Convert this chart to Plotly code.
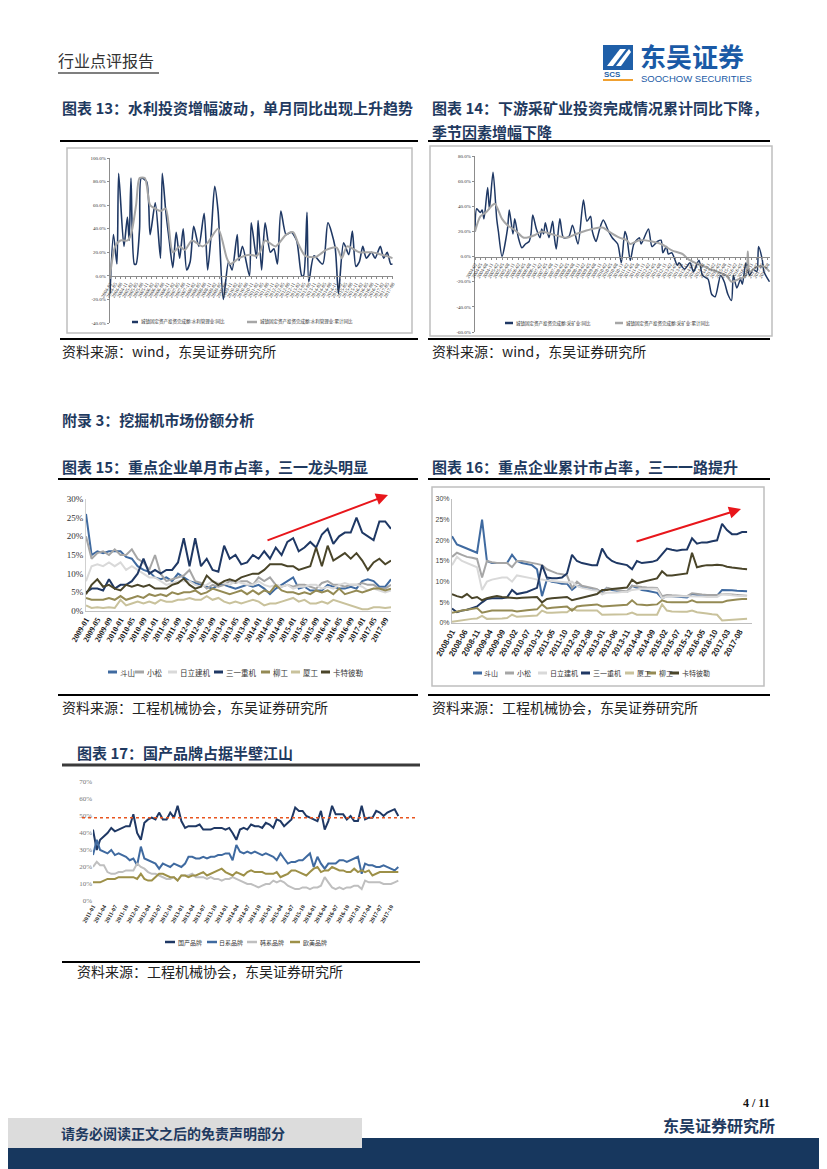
import plotly.graph_objects as go
import pandas as pd

W, H = 827, 1169
OFF = 8  # page body margin: figure origin sits 8px in from the page corner
def px(v): return (v - OFF) / W
def py(v): return 1 - (v - OFF) / H

CJK = "Noto Sans CJK SC"
SERIF = "Liberation Serif"
SANS = "Liberation Sans"
TITLE_C = "#1f3a60"

# ---------------- Chart 13 data (水利管理业) ----------------
c13_month_dates = ["2004-02","2004-04","2004-06","2004-07","2004-10","2004-12",
    "2005-01","2005-02","2005-04","2005-05","2005-07","2005-08","2005-11",
    "2006-01","2006-04","2006-07","2006-08","2006-10","2006-12",
    "2007-02","2007-04","2007-06","2007-08","2007-10","2007-12",
    "2008-02","2008-05","2008-08","2008-10","2008-12",
    "2009-02","2009-04","2009-07","2009-10","2009-12",
    "2010-03","2010-04","2010-06","2010-10","2010-11",
    "2011-02","2011-03","2011-05","2011-07","2011-10","2011-12",
    "2012-02","2012-04","2012-07","2012-10",
    "2013-01","2013-04","2013-05","2013-07","2013-08","2013-11",
    "2014-04","2014-07","2014-11",
    "2015-01","2015-04","2015-07","2015-09","2015-11",
    "2016-01","2016-03","2016-05","2016-08","2016-10",
    "2017-01","2017-03","2017-05","2017-07","2017-08"]
c13_month_vals = [-15,35,10,87,25,50,
    30,83,10,10,40,83,80,
    35,62,15,87,55,30,
    7,37,15,40,5,12,
    42,25,53,5,35,
    76,55,-20,12,5,
    35,13,25,0,45,
    15,47,5,45,20,23,
    10,55,35,37,
    30,0,0,54,-5,17,
    10,45,25,
    -15,28,18,38,8,
    12,25,15,20,15,
    25,15,20,10,10]
c13_cum_dates = ["2004-02","2004-05","2004-08","2004-12","2005-02","2005-05","2005-07","2005-10",
    "2006-01","2006-04","2006-07","2006-10","2007-02","2007-06","2007-09","2008-01","2008-07","2008-10",
    "2009-04","2009-09","2009-11","2010-04","2010-10","2011-02","2011-04","2011-07","2012-01","2012-07",
    "2012-11","2013-02","2013-06","2013-12","2014-06","2014-12","2015-03","2015-06","2016-01","2016-08",
    "2017-04","2017-08"]
c13_cum_vals = [0,25,30,30,35,60,83,83,60,57,55,57,20,25,22,30,25,28,40,15,10,15,18,17,20,30,
    25,35,37,27,17,16,22,24,15,25,20,20,17,15]
c13_yticks = [-40,-20,0,20,40,60,80,100]
c13_names = ["城镇固定资产投资完成额:水利管理业:同比", "城镇固定资产投资完成额:水利管理业:累计同比"]

# ---------------- Chart 14 data (采矿业) ----------------
c14_month_dates = ["2004-02","2004-03","2004-05","2004-06","2004-07","2004-09","2004-10","2004-12",
    "2005-02","2005-03","2005-05","2005-08","2005-09","2005-11","2005-12",
    "2006-02","2006-04","2006-06","2006-08","2006-09","2006-10","2006-12",
    "2007-02","2007-03","2007-04","2007-05","2007-07","2007-09","2007-10","2007-11",
    "2008-01","2008-03","2008-06","2008-08","2008-11",
    "2009-02","2009-04","2009-06","2009-07","2009-09","2009-11",
    "2010-01","2010-04","2010-06","2010-09","2010-11",
    "2011-01","2011-02","2011-04","2011-06","2011-09","2011-10",
    "2012-02","2012-04","2012-07","2012-09","2012-10","2012-12",
    "2013-01","2013-03","2013-06","2013-07","2013-10",
    "2014-01","2014-03","2014-06","2014-08","2014-11",
    "2015-01","2015-03","2015-06","2015-08","2015-10","2015-12",
    "2016-01","2016-03","2016-05","2016-06","2016-08","2016-10","2016-12",
    "2017-02","2017-03","2017-05","2017-06","2017-09"]
c14_month_vals = [20,38,35,37,30,55,38,67,
    30,20,0,22,37,18,30,
    15,7,10,12,18,33,22,
    15,22,18,27,15,28,15,6,
    30,15,16,25,10,
    45,28,32,20,12,22,
    29,20,15,10,-5,
    20,16,-3,10,15,10,
    22,8,12,13,3,8,
    2,3,-7,-5,-10,
    -5,-12,-3,-15,-18,
    -30,-32,-15,-20,-30,-35,
    -15,-25,-18,-22,-5,-15,-10,
    -12,8,-2,-12,-20]
c14_cum_dates = ["2004-02","2004-05","2004-08","2004-11","2005-01","2005-05","2005-08","2006-01",
    "2006-05","2006-11","2007-03","2007-08","2008-05","2008-10","2009-02","2009-07","2010-01",
    "2010-04","2010-10","2011-02","2011-04","2011-09","2012-04","2012-09","2013-03","2013-09",
    "2013-12","2014-04","2014-09","2014-12","2015-04","2015-09","2015-12","2016-04","2016-08",
    "2016-09","2016-10","2017-02","2017-06","2017-09"]
c14_cum_vals = [20,32,35,40,42,30,25,20,15,17,20,18,15,18,20,22,23,20,15,13,10,13,12,10,5,2,
    -2,-5,-8,-10,-12,-15,-20,-18,-15,4,-12,-8,-8,-12]
c14_yticks = [-60,-40,-20,0,20,40,60,80]
c14_names = ["城镇固定资产投资完成额:采矿业:同比", "城镇固定资产投资完成额:采矿业:累计同比"]

# ---------------- Chart 15 data (单月市占率, every 2 months from 2009-01) ----------------
c15_dates = pd.date_range("2009-01-01", periods=54, freq="2MS")
c15_doosan = [26,15,16,15.5,16,16, 16,14.5,14,12,11,10.5, 9,8.5,9,8,10,9, 8,7.5,7,6.5,6,7,
    7,6.5,6,6.5,7,6.5, 7,6,4.5,6,7,8, 9,6,6.5,5.5,5.5,5.5, 7,6.5,6,6,6.5,6, 8,8.5,8,6.5,6.5,8.5]
c15_komatsu = [20,14,15.5,16,15,16.5, 15,15,16.5,14,13,11, 15,10,8,8.5,9,9.5, 11,8,7.5,6,7,6.5,
    7,8,7.5,8,8,7, 9,8,9,7,6.5,7, 6.5,7,7,6.5,6,7.5, 8,7,7,6.5,7,7, 7.5,7,7,6,6,7]
c15_hitachi = [8,12,12.5,12,13,12, 13,11,12,11,10,9, 9,8,7,7.5,8,8, 8,7,6.5,7,8,7.5,
    7.5,7,8,7.5,7,7, 8,7,6.5,7,6.5,7, 6,6.5,6.5,7,7,6, 6.5,6,7,7.5,7,7, 6.5,5.5,6,5.5,5,5.5]
c15_sany = [5,6,6,5.5,8.5,6, 7,7,8,10,14,10, 11,10,11,11,13,19.5, 12,19.5,12,14,11,10.5,
    17.5,14,15,12.5,13,15, 14,16,14,17,15,18.5, 19.5,16,17,18.5,17,20.5, 22,18,20,21,21,25,
    21,20,19,24,24,22]
c15_liugong = [3.5,3,3,3,3.5,3, 4,3,3.5,4,3.5,4.5, 4,4.5,4,5,4.5,5, 5,5.5,4.5,5,6,5.5,
    5,4.5,5,5.5,4.5,5.5, 4.5,5.5,5,7,5.5,5, 5,4.5,5,4.5,5.5,5, 5.5,4.5,6,4.5,5,5.5, 5,5.5,6,6,5.5,6]
c15_xiagong = [1.5,0.8,1,0.8,1,0.8, 3,1.5,2,2.5,2,2.5, 2,3,2.5,2.5,3,3, 3.5,3,3,4,3,3.5,
    2.5,2,2.5,2,2.5,3, 2.5,1.5,2,2,2.5,3, 3.5,2.5,3,2,2,2.5, 2,3,2.5,2,1.5,1, 0.5,0.5,1,1,0.8,1]
c15_cat = [4.5,7,8.5,6.5,7,6, 5.5,7,6.5,7,6.5,7, 6,6,6,7,7.5,8.7, 7,6,6.5,9.5,8,7,
    8,8.5,8,9,9.5,10, 10,11,12.5,12.5,12.5,12, 12,11,11.5,12,17,12, 17.5,13.5,14.5,15.5,14,15.5,
    13.5,11,13,14,12.5,13.5]

# ---------------- Chart 16 data (累计市占率, every 2 months from 2008-01) ----------------
c16_dates = pd.date_range("2008-01-01", periods=60, freq="2MS")
c16_doosan = [21,19,18.5,18,17.5,17, 25,15,14.5,14.5,14.5,14.5, 16.5,15,14.5,14.2,14,13,
    6.5,10.5,10,9.8,9.5,9.5, 8,9,8.7,8.5,8.2,8, 7.5,8.5,8,7.8,7.5,7.5, 9,8.5,8,7.8,7.5,7.3,
    6,6.5,6.5,6.4,6.3,6.2, 7,6.8,6.8,6.7,6.6,6.6, 8,8,7.9,7.8,7.7,7.7]
c16_komatsu = [16,17,16.5,16,15.8,15.5, 11,15,14.7,14.5,14.5,14.5, 13.5,15,15,14.8,14.5,14.3,
    14,13,12.5,12,11.8,11.5, 8.5,10,9,8.8,8.5,8.2, 7,8.5,8.2,8,7.8,7.6, 9,8.8,8.7,8.6,8.6,8.5,
    6.5,6.8,6.7,6.6,6.5,6.5, 7.2,7,6.9,6.8,6.8,6.8, 7,7,6.9,6.8,6.7,6.6]
c16_hitachi = [14,16,15,14.5,14,13.5, 8,10,10.5,10.8,11,11, 10,11.5,11.3,11,10.8,10.5,
    10.5,10.3,10.2,10,10,9.8, 10,9,8.5,8.2,8,7.8, 7,7.3,7.3,7.4,7.5,7.5, 8,8.2,8.3,8.3,8.3,8.3,
    6,6.4,6.4,6.5,6.5,6.5, 6.5,6.4,6.4,6.3,6.3,6.3, 7,6.8,6.7,6.6,6.5,6.5]
c16_sany = [3.5,2.6,3,3.2,3.6,4, 5,5.8,6,6,6,6.2, 8,7,7.2,7.5,8,8.5, 14,11,10.8,10.8,11,12,
    16.5,15,14.5,14.2,14,14, 18,16,15,14.5,14.3,14, 13,15,14.5,14.7,14.8,15.2,
    16.5,18,17.7,17.5,17.7,17.8, 20.5,19.2,19.5,19.5,19.8,20, 24,22.5,21.5,21.5,22,22]
c16_xiagong = [0.3,0.5,0.7,0.8,1,1.1, 1.7,1,1,1.1,1.1,1.2, 2,1.5,1.6,1.7,1.8,1.8, 3,2.5,2.5,2.6,2.6,2.6,
    3.5,3,3,3,3,3, 2,2,2,2,2.1,2.1, 2.5,2,2,2,2,2, 4.5,3,2.8,2.7,2.7,2.7, 3,2.6,2.5,2.3,2.1,2,
    0.6,0.7,0.8,0.8,0.9,1]
c16_liugong = [2.5,2.8,3,3.2,3.4,3.6, 2.5,2.8,3,3,3,3.1, 3,2.8,3,3.1,3.2,3.3, 4.5,3.5,3.7,3.8,3.9,4,
    3,4,4.2,4.3,4.4,4.5, 4,4.1,4.2,4.3,4.4,4.4, 5.5,4.5,4.4,4.3,4.4,4.5, 5.5,5.1,5,5,5,5,
    5.5,5,5,5,5,5, 5,5.4,5.6,5.7,5.8,5.8]
c16_cat = [7,6.5,6.2,7,6,6.3, 5.5,6,6.3,6.5,6.3,6.2, 6,6,6.1,6.2,6.2,6.3, 5,5.8,6,6.1,6.2,6.3,
    5.5,5.8,6.2,6.5,6.8,7, 8,8,8.2,8.3,8.4,8.6, 10.5,9.6,9.9,10.2,10.5,10.8,
    12.5,11.5,11.5,11.7,11.8,12, 17,13.5,13.8,14,14,14.1, 14,13.6,13.4,13.2,13.1,13]

# ---------------- Chart 17 data (品牌份额, monthly from 2011-01) ----------------
c17_dates = pd.date_range("2011-01-01", periods=84, freq="MS")
c17_domestic = [42,30,36,38,40,43,41,42,43,44,44,51, 40,36,46,48,49,48,52,48,48,52,49,56,
    47,43,44,44,44,45,42,42,42,43,43,43, 42,43,40,36,42,43,42,45,44,44,43,46,
    45,43,48,47,44,46,48,55,53,53,50,49, 48,47,53,42,47,56,51,51,51,48,50,47,
    47,56,48,49,49,53,52,50,52,53,54,50]
c17_japan = [27,36,30,29,28,30,27,28,27,26,24,25, 21,32,25,24,23,22,19,22,21,20,22,21,
    20,22,26,26,25,25,26,25,26,26,27,27, 28,28,24,33,29,28,29,28,29,28,27,28,
    27,26,24,28,25,22,23,23,24,24,26,28, 20,26,22,19,22,22,22,24,24,23,24,25,
    26,16,22,21,21,20,20,21,20,19,18,20]
c17_korea = [20,23,21,21,17,16,16,17,17,18,18,18, 22,20,19,17,16,16,15,14,13,13,14,12,
    15,15,15,16,14,14,14,13,14,13,13,12, 13,13,14,13,12,11,10,10,9,8,9,10,
    10,12,11,12,11,9,8,7,7,8,8,7, 8,8,9,14,11,8,7,8,7,8,8,9,
    9,7,12,11,11,11,11,10,10,10,11,12]
c17_euro = [11,11,11,12,13,13,13,14,14,14,14,14, 13,16,13,12,12,14,16,16,15,14,14,12,
    15,15,14,15,15,16,17,15,16,17,18,19, 17,16,15,17,16,15,17,18,17,17,17,16,
    16,16,17,14,15,16,18,18,17,16,15,17, 19,20,17,18,18,20,19,18,18,17,17,19,
    17,18,17,18,15,16,17,17,17,17,17,17]
c17_half_line = 49

pct_ticks_30 = [0,5,10,15,20,25,30]
pct_ticks_70 = [0,10,20,30,40,50,60,70]

C_NAVY = "#1f3864"
C_DOOSAN = "#3f6aa0"
C_KOMATSU = "#a6a6a6"
C_HITACHI = "#d9d9d9"
C_LIUGONG = "#948a54"
C_XIAGONG = "#c9c29c"
C_CAT = "#4a4529"

fig = go.Figure()

def line(x, y, xa, ya, color, width, shape="linear"):
    ln = dict(color=color, width=width, shape=shape)
    if shape == "spline":
        ln["smoothing"] = 0.7
    fig.add_trace(go.Scatter(x=x, y=y, mode="lines", line=ln, xaxis=xa, yaxis=ya,
                             hoverinfo="skip", showlegend=False, cliponaxis=True))

# chart 13
line(c13_month_dates, c13_month_vals, "x", "y", "#1f3864", 1.6, "spline")
line(c13_cum_dates, c13_cum_vals, "x", "y", "#a6a6a6", 2.0, "spline")
# chart 14
line(c14_month_dates, c14_month_vals, "x2", "y2", "#1f3864", 1.5, "spline")
line(c14_cum_dates, c14_cum_vals, "x2", "y2", "#a6a6a6", 2.0, "spline")
# chart 15
for vals, col in [(c15_doosan, C_DOOSAN), (c15_komatsu, C_KOMATSU), (c15_hitachi, C_HITACHI),
                  (c15_sany, C_NAVY), (c15_liugong, C_LIUGONG), (c15_xiagong, C_XIAGONG), (c15_cat, C_CAT)]:
    line(c15_dates, vals, "x3", "y3", col, 2.0)
# chart 16
for vals, col in [(c16_doosan, C_DOOSAN), (c16_komatsu, C_KOMATSU), (c16_hitachi, C_HITACHI),
                  (c16_sany, C_NAVY), (c16_xiagong, C_XIAGONG), (c16_liugong, C_LIUGONG), (c16_cat, C_CAT)]:
    line(c16_dates, vals, "x4", "y4", col, 2.0)
# chart 17
for vals, col in [(c17_domestic, C_NAVY), (c17_japan, C_DOOSAN), (c17_korea, "#bfbfbf"), (c17_euro, "#9d9048")]:
    line(c17_dates, vals, "x5", "y5", col, 2.0)

axis_common = dict(showgrid=False, zeroline=False, automargin=False)
small_tf = dict(size=5, family=SERIF, color="#333")

fig.update_layout(
    width=W, height=H, margin=dict(l=0, r=0, t=0, b=0, pad=0, autoexpand=False),
    paper_bgcolor="white", plot_bgcolor="rgba(0,0,0,0)", showlegend=False,
    font=dict(family=CJK),
    xaxis=dict(domain=[px(110), px(393)], anchor="free", position=py(276), type="date",
               range=["2004-02-01", "2017-08-10"], tickmode="linear", tick0="2004-02-01", dtick="M3",
               tickformat="%Y-%m", tickangle=-60, tickfont=small_tf, showline=True, linecolor="#8c8c8c",
               linewidth=1, ticks="outside", ticklen=2, tickcolor="#8c8c8c", **axis_common),
    yaxis=dict(domain=[py(323), py(158)], range=[-40, 100], anchor="x", tickmode="array",
               tickvals=c13_yticks, ticktext=[f"{v:.1f}%" for v in c13_yticks], tickfont=small_tf,
               showline=True, linecolor="#8c8c8c", ticks="outside", ticklen=2, tickcolor="#8c8c8c",
               **axis_common),
    xaxis2=dict(domain=[px(475), px(770)], anchor="free", position=py(256.6), type="date",
                range=["2004-02-01", "2017-09-10"], tickmode="linear", tick0="2004-02-01", dtick="M3",
                tickformat="%Y-%m", tickangle=-60, tickfont=small_tf, showline=True, linecolor="#8c8c8c",
                linewidth=1, ticks="outside", ticklen=2, tickcolor="#8c8c8c", **axis_common),
    yaxis2=dict(domain=[py(332), py(156)], range=[-60, 80], anchor="x2", tickmode="array",
                tickvals=c14_yticks, ticktext=[f"{v:.1f}%" for v in c14_yticks], tickfont=small_tf,
                showline=True, linecolor="#8c8c8c", ticks="outside", ticklen=2, tickcolor="#8c8c8c",
                **axis_common),
    xaxis3=dict(domain=[px(86), px(391)], anchor="y3", type="date",
                range=["2009-01-01", "2017-11-01"], tickmode="linear", tick0="2009-01-01", dtick="M4",
                tickformat="%Y-%m", tickangle=-60,
                tickfont=dict(size=8, family=SERIF, color="#111", weight="bold"),
                showline=True, linecolor="#bfbfbf", ticks="", **axis_common),
    yaxis3=dict(domain=[py(611), py(499)], range=[0, 30], anchor="x3", tickmode="array",
                tickvals=pct_ticks_30, ticktext=[f"{v}%" for v in pct_ticks_30],
                tickfont=dict(size=9, family=SERIF, color="#333"),
                showline=True, linecolor="#d0d0d0", ticks="", **axis_common),
    xaxis4=dict(domain=[px(452), px(752)], anchor="y4", type="date",
                range=["2008-01-01", "2017-12-31"], tickmode="linear", tick0="2008-01-01", dtick="M5",
                tickformat="%Y-%m", tickangle=-60,
                tickfont=dict(size=8, family=SANS, color="#222", weight="bold"),
                showline=True, linecolor="#bfbfbf", ticks="", **axis_common),
    yaxis4=dict(domain=[py(623), py(499)], range=[0, 30], anchor="x4", tickmode="array",
                tickvals=pct_ticks_30, ticktext=[f"{v}%" for v in pct_ticks_30],
                tickfont=dict(size=7, family=SANS, color="#444"),
                showline=True, linecolor="#bfbfbf", ticks="", **axis_common),
    xaxis5=dict(domain=[px(93), px(400)], anchor="y5", type="date",
                range=["2011-01-01", "2017-12-15"], tickmode="linear", tick0="2011-01-01", dtick="M3",
                tickformat="%Y-%m", tickangle=-60,
                tickfont=dict(size=6, family=SERIF, color="#222", weight="bold"),
                showline=False, ticks="", **axis_common),
    yaxis5=dict(domain=[py(901), py(782)], range=[0, 70], anchor="x5", tickmode="array",
                tickvals=pct_ticks_70, ticktext=[f"{v}%" for v in pct_ticks_70],
                tickfont=dict(size=7, family=SERIF, color="#777"),
                showline=False, ticks="", **axis_common),
)

def rect(x0, y0, x1, y1, fill=None, lc=None, lw=0):
    fig.add_shape(type="rect", xref="paper", yref="paper", x0=px(x0), x1=px(x1), y0=py(y0), y1=py(y1),
                  fillcolor=fill if fill else "rgba(0,0,0,0)",
                  line=dict(color=lc if lc else "rgba(0,0,0,0)", width=lw), layer="below")

def hline(x0, x1, y, color="#000", width=2, dash="solid"):
    fig.add_shape(type="line", xref="paper", yref="paper", x0=px(x0), x1=px(x1), y0=py(y), y1=py(y),
                  line=dict(color=color, width=width, dash=dash))

def txt(x, y, s, size, color="#000", bold=False, anchor="left", family=CJK):
    fig.add_annotation(x=px(x), y=py(y), xref="paper", yref="paper", text=s, showarrow=False,
                       xanchor=anchor, yanchor="middle", borderpad=0,
                       font=dict(size=size, color=color, family=family, weight="bold" if bold else "normal"))

def legend_item(x0, x1, y, color, s, size, lw=2.5, family=CJK):
    hline(x0, x1, y, color, lw)
    txt(x1 + 1.5, y, s, size, "#333", family=family)

# ---- header
txt(57, 60, "行业点评报告", 16, "#333")
hline(58, 159, 73, "#555", 1.5)
rect(603, 45, 633, 70, fill="#1f5fa8")
fig.add_shape(type="path", xref="paper", yref="paper",
              path=f"M {px(607)} {py(66)} L {px(620)} {py(49)} L {px(626)} {py(49)} L {px(613)} {py(66)} Z",
              fillcolor="white", line=dict(width=0))
fig.add_shape(type="path", xref="paper", yref="paper",
              path=f"M {px(616)} {py(66)} L {px(629)} {py(49)} L {px(631)} {py(52)} L {px(621)} {py(66)} Z",
              fillcolor="white", line=dict(width=0))
txt(603, 75, "SCS", 8, "#1f5fa8", True, family=SANS)
hline(603, 633, 80, "#f0a030", 2)
txt(639, 55, "东吴证券", 26, "#1a5aa6", True)
txt(640, 78, "SOOCHOW SECURITIES", 9.5, "#1a5aa6", family=SANS)

# ---- chart 13 / 14 frames and titles
txt(61, 108, "图表 13：水利投资增幅波动，单月同比出现上升趋势", 15, TITLE_C, True)
txt(431, 108, "图表 14：下游采矿业投资完成情况累计同比下降，", 15, TITLE_C, True)
txt(431, 131, "季节因素增幅下降", 15, TITLE_C, True)
hline(60, 418, 141, "#000", 2)
hline(428, 770, 141, "#000", 2)
rect(67, 148, 412, 333, lc="#bfbfbf", lw=1.5)
rect(430, 146, 772, 336, lc="#bfbfbf", lw=1.5)
hline(60, 418, 339, "#000", 2)
hline(428, 770, 339, "#000", 2)
txt(61, 351, "资料来源：wind，东吴证券研究所", 14, "#222")
txt(431, 351, "资料来源：wind，东吴证券研究所", 14, "#222")

legend_item(132, 138, 322, "#1f3864", c13_names[0], 4.5, 2.5)
legend_item(247, 257, 322, "#a6a6a6", c13_names[1], 4.5, 2.5)
legend_item(505, 513, 323, "#1f3864", c14_names[0], 4.5, 2.5)
legend_item(615, 623, 323, "#a6a6a6", c14_names[1], 4.5, 2.5)

# ---- appendix header
txt(61, 419, "附录 3：挖掘机市场份额分析", 15, TITLE_C, True)

# ---- chart 15 / 16
txt(61, 466, "图表 15：重点企业单月市占率，三一龙头明显", 15, TITLE_C, True)
txt(431, 466, "图表 16：重点企业累计市占率，三一一路提升", 15, TITLE_C, True)
hline(58, 418, 479, "#000", 2)
hline(428, 770, 479, "#000", 2)
rect(432, 487, 764, 686, lc="#bfbfbf", lw=1.5)
hline(58, 418, 695, "#000", 2)
hline(428, 770, 695, "#000", 2)
txt(61, 707, "资料来源：工程机械协会，东吴证券研究所", 14, "#222")
txt(431, 707, "资料来源：工程机械协会，东吴证券研究所", 14, "#222")

c15_legend = [("斗山", C_DOOSAN, 108), ("小松", C_KOMATSU, 135), ("日立建机", C_HITACHI, 168),
              ("三一重机", C_NAVY, 214), ("柳工", C_LIUGONG, 261), ("厦工", C_XIAGONG, 291),
              ("卡特彼勒", C_CAT, 321)]
for name, col, x0 in c15_legend:
    legend_item(x0, x0 + 9, 672, col, name, 7.5, 3)
c16_legend = [("斗山", C_DOOSAN, 473), ("小松", C_KOMATSU, 505), ("日立建机", C_HITACHI, 538),
              ("三一重机", C_NAVY, 581), ("厦工", C_XIAGONG, 625), ("柳工", C_LIUGONG, 647),
              ("卡特彼勒", C_CAT, 670)]
for name, col, x0 in c16_legend:
    legend_item(x0, x0 + 9, 673, col, name, 7, 3)

# red trend arrows
fig.add_annotation(x=px(388), y=py(495), xref="paper", yref="paper", ax=-122, ay=46,
                   axref="pixel", ayref="pixel", text="", showarrow=True, arrowhead=2,
                   arrowsize=1.2, arrowwidth=2, arrowcolor="#e8161b")
fig.add_annotation(x=px(741), y=py(509), xref="paper", yref="paper", ax=-106, ay=33,
                   axref="pixel", ayref="pixel", text="", showarrow=True, arrowhead=2,
                   arrowsize=1.2, arrowwidth=2, arrowcolor="#e8161b")

# ---- chart 17
txt(76, 752, "图表 17：国产品牌占据半壁江山", 15, TITLE_C, True)
hline(62, 420, 765, "#3a3a3a", 3)
fig.add_shape(type="line", xref="paper", yref="y5", x0=px(82), x1=px(418),
              y0=c17_half_line, y1=c17_half_line, line=dict(color="#e8541e", width=1.5, dash="dot"))
c17_legend = [("国产品牌", C_NAVY, 165), ("日系品牌", C_DOOSAN, 207), ("韩系品牌", "#bfbfbf", 247),
              ("欧美品牌", "#9d9048", 290)]
for name, col, x0 in c17_legend:
    legend_item(x0, x0 + 10, 942, col, name, 6, 2.5)
hline(62, 420, 962, "#000", 2)
txt(76, 971, "资料来源：工程机械协会，东吴证券研究所", 14, "#222")

# ---- footer
txt(771, 1103, "4 / 11", 12, "#111", True, anchor="right", family=SERIF)
txt(776, 1125, "东吴证券研究所", 16, "#1f3a60", True, anchor="right")
rect(0, 1118, 362, 1148, fill="#dcdcdc")
rect(362, 1138, 835, 1177, fill="#17375e")
rect(0, 1148, 362, 1177, fill="#17375e")
txt(60, 1133, "请务必阅读正文之后的免责声明部分", 14, "#1f3a60", True)

fig.write_html("out.html")
